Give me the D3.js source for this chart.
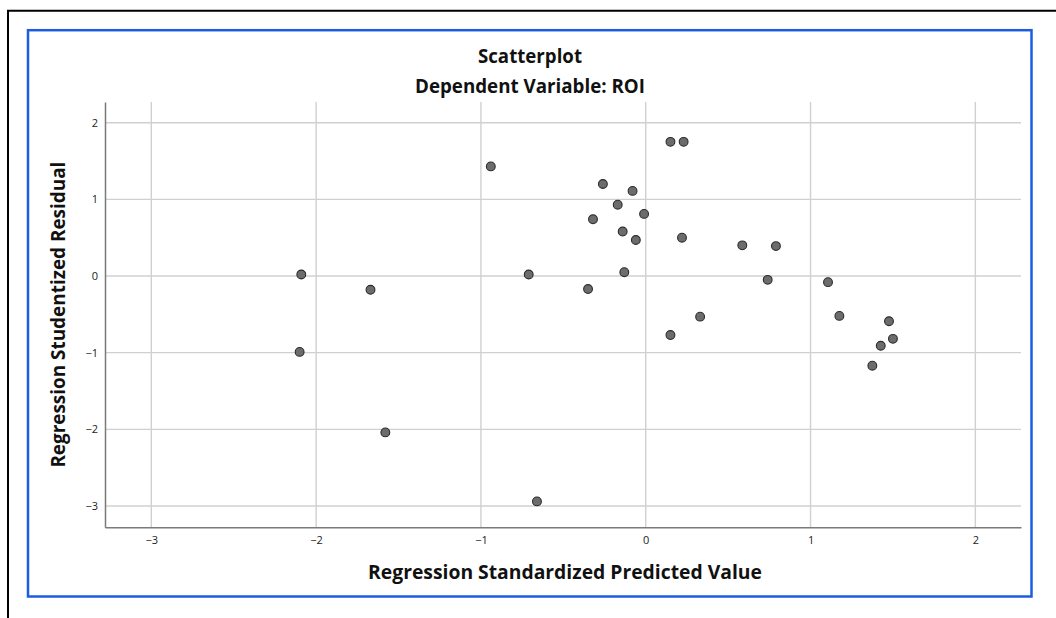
<!DOCTYPE html>
<html>
<head>
<meta charset="utf-8">
<script src="https://cdn.jsdelivr.net/npm/d3@7"></script>
<style>
  html, body { margin: 0; padding: 0; background: #fff; }
  svg { display: block; }
  text { font-family: "Open Sans", "Liberation Sans", sans-serif; }
</style>
</head>
<body>
<svg id="chart" width="1056" height="618"></svg>
<script>
// ---- data ----
const predicted = [
  -2.09, -1.67, -2.10, -1.58, -0.71, -0.35, -0.13, -0.66, 0.15, 0.33,
  -0.94, 0.15, 0.23, -0.26, -0.08, -0.17, -0.01, -0.32, -0.14, -0.06, 0.22,
  0.586, 0.79, 0.74, 1.106, 1.175, 1.476, 1.50, 1.426, 1.375
];
const residual = [
  0.02, -0.18, -0.99, -2.04, 0.02, -0.17, 0.05, -2.94, -0.77, -0.53,
  1.43, 1.75, 1.75, 1.20, 1.11, 0.93, 0.81, 0.74, 0.58, 0.47, 0.50,
  0.40, 0.39, -0.05, -0.08, -0.52, -0.59, -0.82, -0.91, -1.17
];
const xTicks = [-3, -2, -1, 0, 1, 2];
const yTicks = [-3, -2, -1, 0, 1, 2];
const xDomain = [-3.281, 2.277];
const yDomain = [-3.278, 2.27];
const titleText = "Scatterplot";
const subtitleText = "Dependent Variable: ROI";
const xLabelText = "Regression Standardized Predicted Value";
const yLabelText = "Regression Studentized Residual";

// ---- layout ----
const svg = d3.select("#chart");
const plot = { left: 105, right: 1021, top: 102, bottom: 527.3 };

const x = d3.scaleLinear().domain(xDomain).range([plot.left, plot.right]);
const y = d3.scaleLinear().domain(yDomain).range([plot.bottom, plot.top]);

// outer black frame (partial, top + left)
svg.append("path")
  .attr("d", "M8,618 L8,10.7 L1056,10.7")
  .attr("fill", "none").attr("stroke", "#000").attr("stroke-width", 2);

// blue selection frame
svg.append("rect")
  .attr("x", 28).attr("y", 30.2).attr("width", 1003.5).attr("height", 566.3)
  .attr("fill", "none").attr("stroke", "#1d5ce0").attr("stroke-width", 2.5);

// gridlines
const grid = svg.append("g");
grid.selectAll("line.vx").data(xTicks).join("line")
  .attr("x1", d => x(d)).attr("x2", d => x(d))
  .attr("y1", plot.top).attr("y2", plot.bottom)
  .attr("stroke", "#d0d0d0").attr("stroke-width", 1.4);
grid.selectAll("line.hy").data(yTicks).join("line")
  .attr("x1", plot.left).attr("x2", plot.right)
  .attr("y1", d => y(d)).attr("y2", d => y(d))
  .attr("stroke", "#d0d0d0").attr("stroke-width", 1.4);

// axes (lines only, with labels)
const fmt = d => (d < 0 ? "\u2212" + Math.abs(d) : String(d));
const xAxis = d3.axisBottom(x).tickValues(xTicks).tickSize(0).tickPadding(9).tickFormat(fmt);
const yAxis = d3.axisLeft(y).tickValues(yTicks).tickSize(0).tickPadding(7).tickFormat(fmt);

const gx = svg.append("g").attr("transform", `translate(0,${plot.bottom})`).call(xAxis);
const gy = svg.append("g").attr("transform", `translate(${plot.left},0)`).call(yAxis);
[gx, gy].forEach(g => {
  g.select(".domain").attr("stroke", "#7a7a7a").attr("stroke-width", 1.5);
  g.selectAll("text")
    .attr("font-family", "'Open Sans', sans-serif")
    .attr("font-size", 11).attr("fill", "#222");
});

// points
svg.append("g").selectAll("circle")
  .data(predicted.map((p, i) => [p, residual[i]]))
  .join("circle")
  .attr("cx", d => x(d[0])).attr("cy", d => y(d[1]))
  .attr("r", 4.4)
  .attr("fill", "#6c6c6c").attr("stroke", "#2b2b2b").attr("stroke-width", 1.1);

// text helper: scale font so the text spans the target width
function fitText(sel, targetWidth) {
  const base = +sel.attr("font-size");
  const w = sel.node().getComputedTextLength();
  if (w > 0) sel.attr("font-size", (base * targetWidth / w).toFixed(2));
  return sel;
}

const boxCenter = 530;
const plotCenterX = (plot.left + plot.right) / 2;
const plotCenterY = (plot.top + plot.bottom) / 2;

const t1 = svg.append("text").text(titleText)
  .attr("x", boxCenter).attr("y", 62.5).attr("text-anchor", "middle")
  .attr("font-weight", "bold").attr("font-size", 16).attr("fill", "#111");
fitText(t1, 104);

const t2 = svg.append("text").text(subtitleText)
  .attr("x", boxCenter).attr("y", 93).attr("text-anchor", "middle")
  .attr("font-weight", "bold").attr("font-size", 16).attr("fill", "#111");
fitText(t2, 230);

const xl = svg.append("text").text(xLabelText)
  .attr("x", plotCenterX + 2).attr("y", 578.5).attr("text-anchor", "middle")
  .attr("font-weight", "bold").attr("font-size", 16).attr("fill", "#111");
fitText(xl, 394);

const yl = svg.append("text").text(yLabelText)
  .attr("transform", `translate(65,${plotCenterY}) rotate(-90)`)
  .attr("text-anchor", "middle")
  .attr("font-weight", "bold").attr("font-size", 16).attr("fill", "#111");
fitText(yl, 306);
</script>
</body>
</html>
